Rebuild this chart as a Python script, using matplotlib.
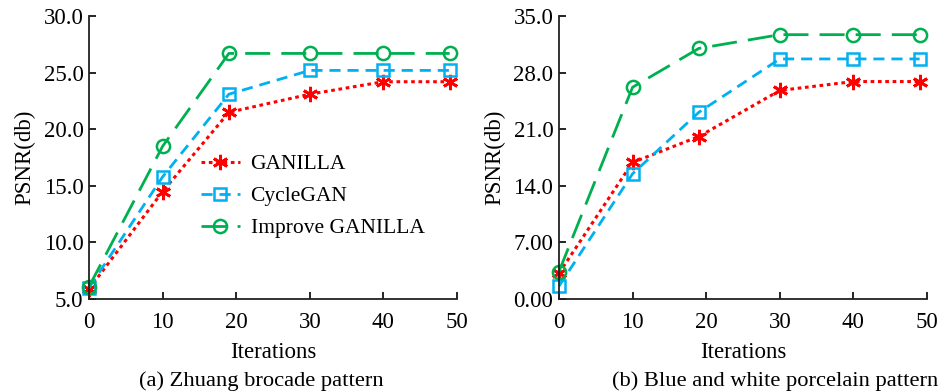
import matplotlib
matplotlib.use('Agg')
import matplotlib.pyplot as plt

plt.rcParams['font.family'] = ['Liberation Serif', 'DejaVu Serif']

iterations = [0, 10, 19, 30, 40, 49]
names = ['GANILLA', 'CycleGAN', 'Improve GANILLA']

# (a) Zhuang brocade pattern
zhuang_ganilla = [5.9, 14.5, 21.5, 23.1, 24.2, 24.2]
zhuang_cyclegan = [6.0, 15.8, 23.1, 25.2, 25.2, 25.2]
zhuang_improve = [6.1, 18.5, 26.7, 26.7, 26.7, 26.7]

# (b) Blue and white porcelain pattern
porcelain_ganilla = [3.2, 16.9, 20.1, 25.8, 26.9, 26.9]
porcelain_cyclegan = [1.6, 15.5, 23.1, 29.7, 29.7, 29.7]
porcelain_improve = [3.4, 26.2, 31.0, 32.7, 32.7, 32.7]

left_ticks = [5, 10, 15, 20, 25, 30]
left_ticklabels = ['5.0', '10.0', '15.0', '20.0', '25.0', '30.0']
right_ticks = [0, 7, 14, 21, 28, 35]
right_ticklabels = ['0.00', '7.00', '14.0', '21.0', '28.0', '35.0']
x_ticks = [0, 10, 20, 30, 40, 50]

red = '#FF0000'
blue = '#00B0F0'
green = '#00B050'
fs = 16.5

fig = plt.figure(figsize=(9.49, 3.92), dpi=100)
ax1 = fig.add_axes([0.0938, 0.237, 0.3878, 0.722])
ax2 = fig.add_axes([0.589, 0.237, 0.3878, 0.722])


def draw(ax, g, c, imp, yticks, yticklabels, ylim):
    ax.plot(iterations, g, color=red, linestyle=(0, (1.2, 1.2)), lw=2.2,
            marker=(6, 2, 0), markersize=11, markeredgewidth=2,
            label=names[0])
    ax.plot(iterations, c, color=blue, linestyle=(0, (4, 2.5)), lw=2,
            marker='s', markersize=8.5, markeredgewidth=1.8, markerfacecolor='none',
            label=names[1])
    ax.plot(iterations, imp, color=green, linestyle=(0, (9, 4)), lw=2,
            marker='o', markersize=9.5, markeredgewidth=1.8, markerfacecolor='none',
            label=names[2])
    ax.set_xlim(0, 50)
    ax.set_ylim(ylim)
    ax.set_xticks(x_ticks)
    ax.set_yticks(yticks)
    ax.set_yticklabels(yticklabels)
    for s in ['top', 'right']:
        ax.spines[s].set_visible(False)
    for s in ['left', 'bottom']:
        ax.spines[s].set_linewidth(1.3)
        ax.spines[s].set_color('#222222')
    ax.tick_params(direction='in', length=5, width=1.2, labelsize=fs, pad=4)
    ax.tick_params(axis='x', pad=9)
    ax.set_xlabel('Iterations', fontsize=fs, labelpad=7)
    ax.set_ylabel('PSNR(db)', fontsize=fs, labelpad=6)
    for line in ax.get_lines():
        line.set_clip_on(False)


draw(ax1, zhuang_ganilla, zhuang_cyclegan, zhuang_improve,
     left_ticks, left_ticklabels, (5, 30))
draw(ax2, porcelain_ganilla, porcelain_cyclegan, porcelain_improve,
     right_ticks, right_ticklabels, (0, 35))

ax1.legend(loc='upper left', bbox_to_anchor=(0.275, 0.55), frameon=False,
           fontsize=15.5, handlelength=1.8, handletextpad=0.5, labelspacing=0.55,
           borderpad=0)

fig.text(0.275, 0.003, '(a) Zhuang brocade pattern', ha='center', va='bottom',
         fontsize=16.2)
fig.text(0.817, 0.003, '(b) Blue and white porcelain pattern', ha='center',
         va='bottom', fontsize=16.2)

fig.savefig('out.png', dpi=100)
